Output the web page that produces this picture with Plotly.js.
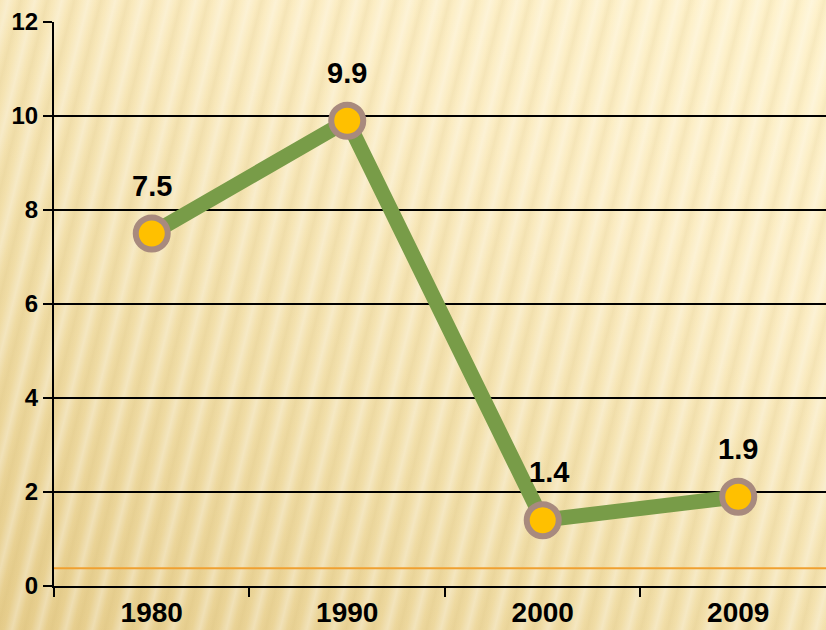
<!DOCTYPE html>
<html><head><meta charset="utf-8">
<script src="https://cdn.plot.ly/plotly-3.0.1.min.js"></script>
<style>
html,body{margin:0;padding:0;}
body{width:826px;height:630px;overflow:hidden;
background:
 repeating-linear-gradient(104deg, rgba(255,255,255,0) 0px, rgba(255,255,255,0.30) 8px, rgba(255,255,255,0) 15px, rgba(190,160,80,0.10) 20px, rgba(255,255,255,0) 26px),
 linear-gradient(30deg, #e6cd8c 0%, #f1dea8 35%, #fbecc2 70%, #fef2cc 100%);}
#chart{width:826px;height:630px;}
</style></head>
<body><div id="chart"></div>
<script>
const years = ['1980','1990','2000','2009'];
const values = [7.5, 9.9, 1.4, 1.9];
const labels = ['7.5','9.9','1.4','1.9'];
const refLevel = 0.38;

const trace = {
  x: years, y: values, type: 'scatter', mode: 'lines+markers',
  line: {color: '#789c48', width: 15},
  marker: {size: 32, color: '#ffc000', line: {color: '#a88a7e', width: 6}},
  hoverinfo: 'none', showlegend: false, cliponaxis: false
};

const annotations = years.map((yr, i) => ({
  x: i, y: values[i], text: '<b>' + labels[i] + '</b>', showarrow: false,
  yshift: 48, xshift: i === 2 ? 6 : 0, yanchor: 'middle',
  font: {family: 'Liberation Sans, Arial, sans-serif', size: 29, color: '#000'}
}));

const layout = {
  width: 826, height: 630,
  margin: {l: 54, r: 0, t: 22, b: 44},
  paper_bgcolor: 'rgba(0,0,0,0)', plot_bgcolor: 'rgba(0,0,0,0)',
  font: {family: 'Liberation Sans, Arial, sans-serif', color: '#000'},
  xaxis: {
    type: 'category', range: [-0.5, 3.449], tickson: 'boundaries',
    ticks: 'outside', ticklen: 9, tickwidth: 2, tickcolor: '#000',
    showline: true, linecolor: '#000', linewidth: 2, showgrid: false, zeroline: false,
    tickfont: {size: 28, color: '#000', family: 'Liberation Sans, Arial, sans-serif', weight: 'bold'},
    fixedrange: true
  },
  yaxis: {
    range: [0, 12], dtick: 2, tick0: 0,
    ticks: 'outside', ticklen: 9, tickwidth: 2, tickcolor: '#000',
    showline: true, linecolor: '#000', linewidth: 2,
    showgrid: true, gridcolor: '#000', gridwidth: 2, zeroline: false,
    tickfont: {size: 24, color: '#000', family: 'Liberation Sans, Arial, sans-serif', weight: 'bold'},
    fixedrange: true
  },
  shapes: [{type: 'line', xref: 'paper', x0: 0, x1: 1, yref: 'y', y0: refLevel, y1: refLevel,
            line: {color: '#f0a030', width: 2}, layer: 'below'}],
  annotations: annotations
};

Plotly.newPlot('chart', [trace], layout, {staticPlot: true, displayModeBar: false});
</script></body></html>
